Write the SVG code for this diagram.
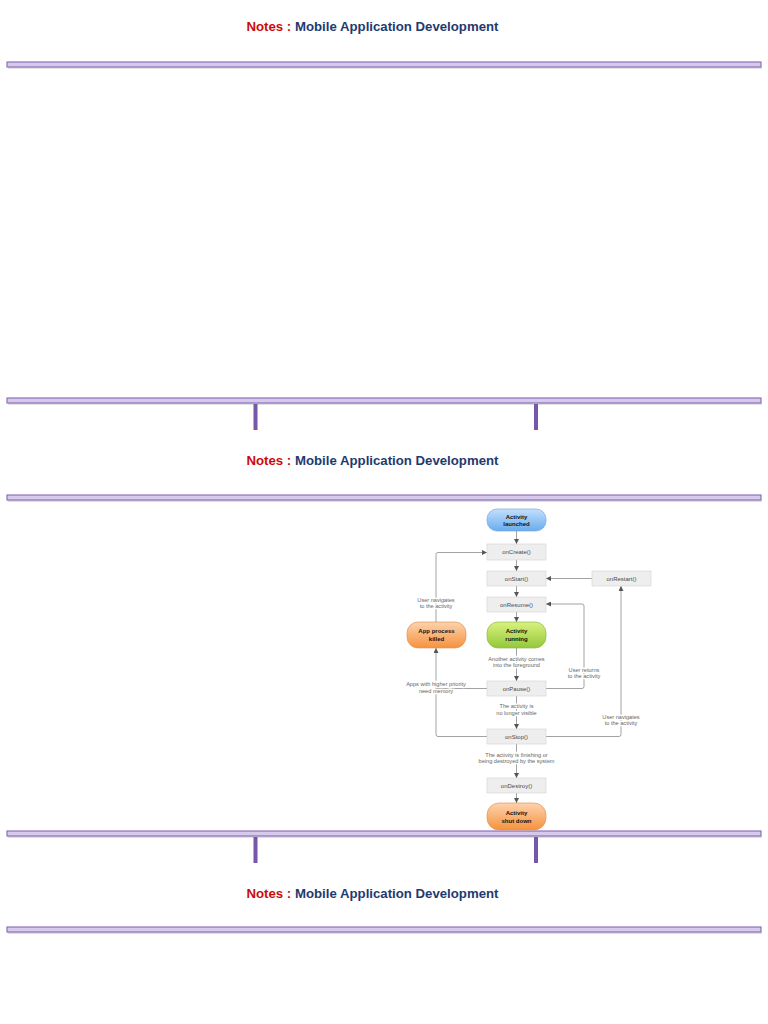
<svg xmlns="http://www.w3.org/2000/svg" width="768" height="1024" viewBox="0 0 768 1024">
<style>
.hdr{font-family:"Liberation Sans",Arial,sans-serif;font-weight:bold;font-size:12.5px}
.red{fill:#cc0a0a}.navy{fill:#1f3a70}
.rule{fill:#d6c9ec;stroke:#8466b4;stroke-width:1.1}
.shadow{fill:#000;opacity:0.12}
.tick{fill:#7657a8}
.box{fill:#eeeeee;stroke:#d2d2d2;stroke-width:0.6}
.bt{font-family:"Liberation Sans",Arial,sans-serif;font-size:6px;fill:#4a4a4a;text-anchor:middle}
.pt{font-family:"Liberation Sans",Arial,sans-serif;font-size:6px;font-weight:bold;fill:#111;text-anchor:middle}
.lb{font-family:"Liberation Sans",Arial,sans-serif;font-size:5.6px;fill:#666;text-anchor:middle;stroke:#fff;stroke-width:2.5;paint-order:stroke}
.cn{fill:none;stroke:#8c8c8c;stroke-width:0.8}
</style>
<defs>
<marker id="ah" viewBox="0 0 6 6" refX="6" refY="3" markerWidth="5" markerHeight="5" orient="auto" markerUnits="userSpaceOnUse">
<path d="M0,0 L6,3 L0,6 z" fill="#555"/>
</marker>
<linearGradient id="gBlue" x1="0" y1="0" x2="0" y2="1"><stop offset="0" stop-color="#c2e0fc"/><stop offset="1" stop-color="#69acf0"/></linearGradient>
<linearGradient id="gGreen" x1="0" y1="0" x2="0" y2="1"><stop offset="0" stop-color="#d9f27e"/><stop offset="1" stop-color="#93c83a"/></linearGradient>
<linearGradient id="gOrange" x1="0" y1="0" x2="0" y2="1"><stop offset="0" stop-color="#fdd3ad"/><stop offset="1" stop-color="#f5923e"/></linearGradient>
</defs>
<rect width="768" height="1024" fill="#ffffff"/>

<g id="page-headers">
<text class="hdr" x="246.5" y="31" textLength="252" lengthAdjust="spacingAndGlyphs"><tspan class="red">Notes : </tspan><tspan class="navy">Mobile Application Development</tspan></text>
<text class="hdr" x="246.5" y="465" textLength="252" lengthAdjust="spacingAndGlyphs"><tspan class="red">Notes : </tspan><tspan class="navy">Mobile Application Development</tspan></text>
<text class="hdr" x="246.5" y="898" textLength="252" lengthAdjust="spacingAndGlyphs"><tspan class="red">Notes : </tspan><tspan class="navy">Mobile Application Development</tspan></text>
</g>

<g id="rules">
<rect class="shadow" x="8" y="67" width="754" height="2"/>
<rect class="rule" x="7" y="62" width="754" height="5"/>
<rect class="shadow" x="8" y="403" width="754" height="2"/>
<rect class="rule" x="7" y="398" width="754" height="5"/>
<rect class="shadow" x="8" y="500" width="754" height="2"/>
<rect class="rule" x="7" y="495" width="754" height="5"/>
<rect class="shadow" x="8" y="836" width="754" height="2"/>
<rect class="rule" x="7" y="831" width="754" height="5"/>
<rect class="shadow" x="8" y="932" width="754" height="2"/>
<rect class="rule" x="7" y="927" width="754" height="5"/>
<rect class="tick" x="253.5" y="404" width="4" height="26"/>
<rect class="tick" x="534" y="404" width="4" height="26"/>
<rect class="tick" x="253.5" y="837" width="4" height="26"/>
<rect class="tick" x="534" y="837" width="4" height="26"/>
</g>

<g id="connectors">
<line class="cn" x1="516.5" y1="531" x2="516.5" y2="544" marker-end="url(#ah)"/>
<line class="cn" x1="516.5" y1="560" x2="516.5" y2="571" marker-end="url(#ah)"/>
<line class="cn" x1="516.5" y1="586" x2="516.5" y2="597" marker-end="url(#ah)"/>
<line class="cn" x1="516.5" y1="612" x2="516.5" y2="622" marker-end="url(#ah)"/>
<line class="cn" x1="516.5" y1="648" x2="516.5" y2="681" marker-end="url(#ah)"/>
<line class="cn" x1="516.5" y1="696" x2="516.5" y2="729" marker-end="url(#ah)"/>
<line class="cn" x1="516.5" y1="744" x2="516.5" y2="778" marker-end="url(#ah)"/>
<line class="cn" x1="516.5" y1="793" x2="516.5" y2="803" marker-end="url(#ah)"/>
<line class="cn" x1="592" y1="578.5" x2="546" y2="578.5" marker-end="url(#ah)"/>
<path class="cn" d="M546,688.5 H582 Q584,688.5 584,686.5 V606 Q584,604 582,604 H546" marker-end="url(#ah)"/>
<path class="cn" d="M546,736.5 H619 Q621,736.5 621,734.5 V586" marker-end="url(#ah)"/>
<path class="cn" d="M487,736.5 H438 Q436,736.5 436,734.5 V648" marker-end="url(#ah)"/>
<line class="cn" x1="487" y1="688.5" x2="436" y2="688.5"/>
<path class="cn" d="M436,622 V554.5 Q436,552.5 438,552.5 H487" marker-end="url(#ah)"/>
<text class="lb" x="436" y="601.5">User navigates</text>
<text class="lb" x="436" y="608">to the activity</text>
<text class="lb" x="516.5" y="660.5">Another activity comes</text>
<text class="lb" x="516.5" y="667">into the foreground</text>
<text class="lb" x="584" y="671.5">User returns</text>
<text class="lb" x="584" y="678">to the activity</text>
<text class="lb" x="436" y="686">Apps with higher priority</text>
<text class="lb" x="436" y="692.5">need memory</text>
<text class="lb" x="516.5" y="708">The activity is</text>
<text class="lb" x="516.5" y="714.5">no longer visible</text>
<text class="lb" x="621" y="718.5">User navigates</text>
<text class="lb" x="621" y="725">to the activity</text>
<text class="lb" x="516.5" y="756.5">The activity is finishing or</text>
<text class="lb" x="516.5" y="763">being destroyed by the system</text>
</g>

<g id="activity-launched">
<rect x="487" y="509" width="59" height="22" rx="10" fill="url(#gBlue)" stroke="#7ea9d6" stroke-width="0.7"/>
<text class="pt" x="516.5" y="518.5">Activity</text>
<text class="pt" x="516.5" y="525.5">launched</text>
</g>
<g id="onCreate"><rect class="box" x="487" y="544" width="59" height="16"/><text class="bt" x="516.5" y="554">onCreate()</text></g>
<g id="onStart"><rect class="box" x="487" y="571" width="59" height="15"/><text class="bt" x="516.5" y="580.5">onStart()</text></g>
<g id="onRestart"><rect class="box" x="592" y="571" width="59" height="15"/><text class="bt" x="621.5" y="580.5">onRestart()</text></g>
<g id="onResume"><rect class="box" x="487" y="597" width="59" height="15"/><text class="bt" x="516.5" y="606.5">onResume()</text></g>
<g id="activity-running">
<rect x="487" y="622" width="59" height="26" rx="11" fill="url(#gGreen)" stroke="#8fb84e" stroke-width="0.7"/>
<text class="pt" x="516.5" y="633">Activity</text>
<text class="pt" x="516.5" y="640.5">running</text>
</g>
<g id="app-process-killed">
<rect x="407" y="622" width="59" height="26" rx="11" fill="url(#gOrange)" stroke="#e3955a" stroke-width="0.7"/>
<text class="pt" x="436.5" y="633">App process</text>
<text class="pt" x="436.5" y="640.5">killed</text>
</g>
<g id="onPause"><rect class="box" x="487" y="681" width="59" height="15"/><text class="bt" x="516.5" y="690.5">onPause()</text></g>
<g id="onStop"><rect class="box" x="487" y="729" width="59" height="15"/><text class="bt" x="516.5" y="738.5">onStop()</text></g>
<g id="onDestroy"><rect class="box" x="487" y="778" width="59" height="15"/><text class="bt" x="516.5" y="787.5">onDestroy()</text></g>
<g id="activity-shut-down">
<rect x="487" y="803" width="59" height="27" rx="12" fill="url(#gOrange)" stroke="#e3955a" stroke-width="0.7"/>
<text class="pt" x="516.5" y="815">Activity</text>
<text class="pt" x="516.5" y="822.5">shut down</text>
</g>
</svg>
